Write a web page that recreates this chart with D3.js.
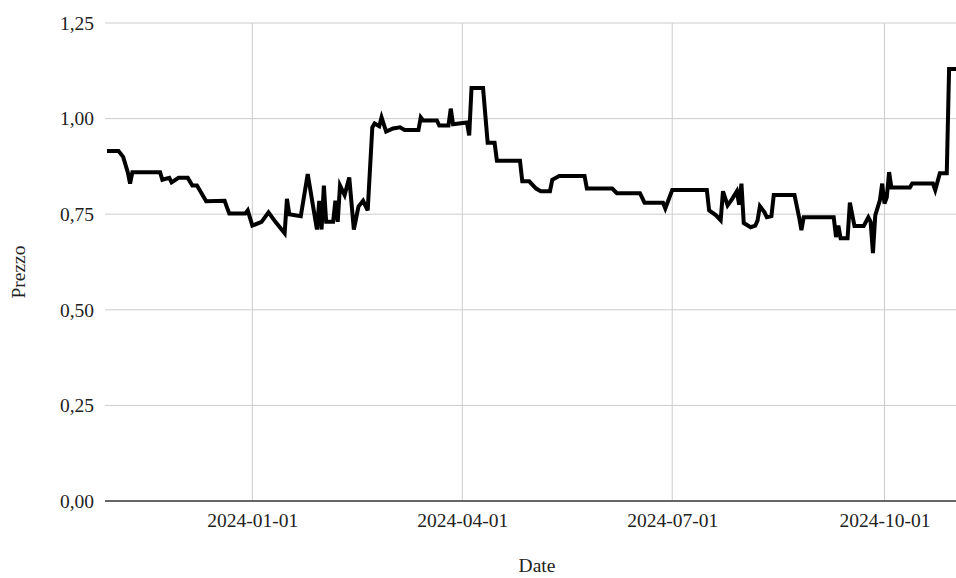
<!DOCTYPE html>
<html>
<head>
<meta charset="utf-8">
<script src="https://cdn.jsdelivr.net/npm/d3@7"></script>
<style>
body { margin: 0; background: #fff; }
svg text { font-family: "Liberation Serif", "Times New Roman", Times, "DejaVu Serif", serif !important; fill: #222; }
</style>
</head>
<body>
<svg id="line"></svg>
<script>
var dates = [
	"2023-10-30", "2023-11-04", "2023-11-06", "2023-11-08", "2023-11-09", "2023-11-10", "2023-11-22", "2023-11-23",
	"2023-11-26", "2023-11-27", "2023-11-30", "2023-12-04", "2023-12-06", "2023-12-08", "2023-12-12", "2023-12-20",
	"2023-12-21", "2023-12-22", "2023-12-29", "2023-12-30", "2024-01-01", "2024-01-05", "2024-01-08", "2024-01-11",
	"2024-01-15", "2024-01-16", "2024-01-17", "2024-01-22", "2024-01-25", "2024-01-29", "2024-01-30", "2024-01-31",
	"2024-02-01", "2024-02-02", "2024-02-05", "2024-02-06", "2024-02-07", "2024-02-08", "2024-02-10", "2024-02-12",
	"2024-02-14", "2024-02-16", "2024-02-18", "2024-02-20", "2024-02-22", "2024-02-23", "2024-02-25", "2024-02-26",
	"2024-02-28", "2024-03-02", "2024-03-05", "2024-03-07", "2024-03-13", "2024-03-14", "2024-03-15", "2024-03-21",
	"2024-03-22", "2024-03-26", "2024-03-27", "2024-03-28", "2024-04-03", "2024-04-04", "2024-04-05", "2024-04-10",
	"2024-04-12", "2024-04-15", "2024-04-16", "2024-04-26", "2024-04-27", "2024-04-30", "2024-05-03", "2024-05-05",
	"2024-05-09", "2024-05-10", "2024-05-13", "2024-05-24", "2024-05-25", "2024-06-05", "2024-06-07", "2024-06-17",
	"2024-06-19", "2024-06-27", "2024-06-28", "2024-07-01", "2024-07-16", "2024-07-17", "2024-07-20", "2024-07-22",
	"2024-07-23", "2024-07-25", "2024-07-27", "2024-07-29", "2024-07-30", "2024-07-31", "2024-08-01", "2024-08-04",
	"2024-08-06", "2024-08-07", "2024-08-08", "2024-08-10", "2024-08-11", "2024-08-13", "2024-08-14", "2024-08-23",
	"2024-08-25", "2024-08-26", "2024-08-27", "2024-09-09", "2024-09-10", "2024-09-11", "2024-09-12", "2024-09-15",
	"2024-09-16", "2024-09-18", "2024-09-22", "2024-09-24", "2024-09-25", "2024-09-26", "2024-09-27", "2024-09-29",
	"2024-09-30", "2024-10-01", "2024-10-02", "2024-10-03", "2024-10-04", "2024-10-12", "2024-10-13", "2024-10-22",
	"2024-10-23", "2024-10-25", "2024-10-28", "2024-10-29", "2024-11-01"
];
var prices = [
	0.915, 0.915, 0.90, 0.86, 0.83, 0.86, 0.86, 0.84,
	0.845, 0.833, 0.845, 0.845, 0.825, 0.825, 0.784, 0.785,
	0.768, 0.752, 0.752, 0.76, 0.72, 0.73, 0.755, 0.73,
	0.70, 0.79, 0.75, 0.745, 0.855, 0.71, 0.785, 0.71,
	0.825, 0.73, 0.73, 0.785, 0.73, 0.825, 0.80, 0.846,
	0.71, 0.77, 0.785, 0.76, 0.977, 0.987, 0.98, 1.003,
	0.966, 0.974, 0.977, 0.97, 0.97, 1.003, 0.995, 0.995,
	0.982, 0.982, 1.026, 0.985, 0.99, 0.956, 1.08, 1.08,
	0.937, 0.937, 0.89, 0.89, 0.836, 0.836, 0.817, 0.81,
	0.81, 0.84, 0.85, 0.85, 0.817, 0.817, 0.805, 0.805,
	0.78, 0.78, 0.765, 0.813, 0.813, 0.76, 0.747, 0.734,
	0.81, 0.773, 0.79, 0.81, 0.775, 0.83, 0.727, 0.716,
	0.72, 0.734, 0.771, 0.755, 0.742, 0.745, 0.80, 0.80,
	0.742, 0.708, 0.742, 0.742, 0.69, 0.72, 0.687, 0.687,
	0.78, 0.719, 0.719, 0.742, 0.73, 0.648, 0.747, 0.786,
	0.83, 0.778, 0.794, 0.86, 0.82, 0.82, 0.83, 0.83,
	0.813, 0.857, 0.857, 1.13, 1.13
];
var xTicks = ["2024-01-01", "2024-04-01", "2024-07-01", "2024-10-01"];
var yTicks = [0, 0.25, 0.5, 0.75, 1, 1.25];

var w = 956;
var h = 578;
var margin = {
	left: 107,
	right: 0,
	top: 23,
	bottom: 77
}
var fontSize = 19.5;
var parse = d3.timeParse("%Y-%m-%d");
var data = dates.map(function (d, i) {
	return { date: parse(d), price: prices[i] };
});

var svg = d3.select("#line")
	.attr("width", w)
	.attr("height", h);

var xScale = d3.scaleTime()
	.domain(d3.extent(data, function (d) { return d.date; }))
	.range([margin.left, w - margin.right]);
var yScale = d3.scaleLinear()
	.domain([0, 1.25])
	.range([h - margin.bottom, margin.top]);

var it = d3.formatLocale({ decimal: ",", thousands: ".", grouping: [3], currency: ["€", ""] });
var fmtY = it.format(".2f");
var fmtX = d3.timeFormat("%Y-%m-%d");

// gridlines
svg.append("g")
	.selectAll("line")
	.data(xTicks)
	.enter()
	.append("line")
	.attr("x1", function (d) { return xScale(parse(d)); })
	.attr("x2", function (d) { return xScale(parse(d)); })
	.attr("y1", margin.top)
	.attr("y2", h - margin.bottom)
	.attr("stroke", "#cccccc")
	.attr("stroke-width", 1);
svg.append("g")
	.selectAll("line")
	.data(yTicks.slice(1))
	.enter()
	.append("line")
	.attr("x1", margin.left - 2)
	.attr("x2", w - margin.right)
	.attr("y1", function (d) { return yScale(d); })
	.attr("y2", function (d) { return yScale(d); })
	.attr("stroke", "#cccccc")
	.attr("stroke-width", 1);

var xAxis = d3.axisBottom(xScale)
	.tickValues(xTicks.map(parse))
	.tickFormat(fmtX)
	.tickSize(0)
	.tickPadding(12);
var yAxis = d3.axisLeft(yScale)
	.tickValues(yTicks)
	.tickFormat(fmtY)
	.tickSize(0)
	.tickPadding(13);

svg.append("g")
	.classed("xAxis", true)
	.attr("transform", "translate(0," + (h - margin.bottom) + ")")
	.call(xAxis)
	.call(function (g) { g.select(".domain").remove(); })
	.selectAll("text")
	.attr("font-size", fontSize);
svg.append("g")
	.classed("yAxis", true)
	.attr("transform", "translate(" + margin.left + ",0)")
	.call(yAxis)
	.call(function (g) { g.select(".domain").remove(); })
	.selectAll("text")
	.attr("font-size", fontSize);

// baseline
svg.append("line")
	.attr("x1", margin.left - 2)
	.attr("x2", w - margin.right)
	.attr("y1", yScale(0))
	.attr("y2", yScale(0))
	.attr("stroke", "#333")
	.attr("stroke-width", 1.5);

var line = d3.line()
	.x(function (d) { return xScale(d.date); })
	.y(function (d) { return yScale(d.price); });
svg.append("path")
	.datum(data)
	.classed("line", true)
	.attr("d", line)
	.attr("fill", "none")
	.attr("stroke", "#000")
	.attr("stroke-width", 4)
	.attr("stroke-linejoin", "miter");

svg.append("text")
	.attr("x", 537)
	.attr("y", 572)
	.attr("text-anchor", "middle")
	.attr("font-size", fontSize)
	.text("Date");
svg.append("text")
	.attr("transform", "translate(25,272) rotate(-90)")
	.attr("text-anchor", "middle")
	.attr("font-size", fontSize)
	.text("Prezzo");
</script>
</body>
</html>
